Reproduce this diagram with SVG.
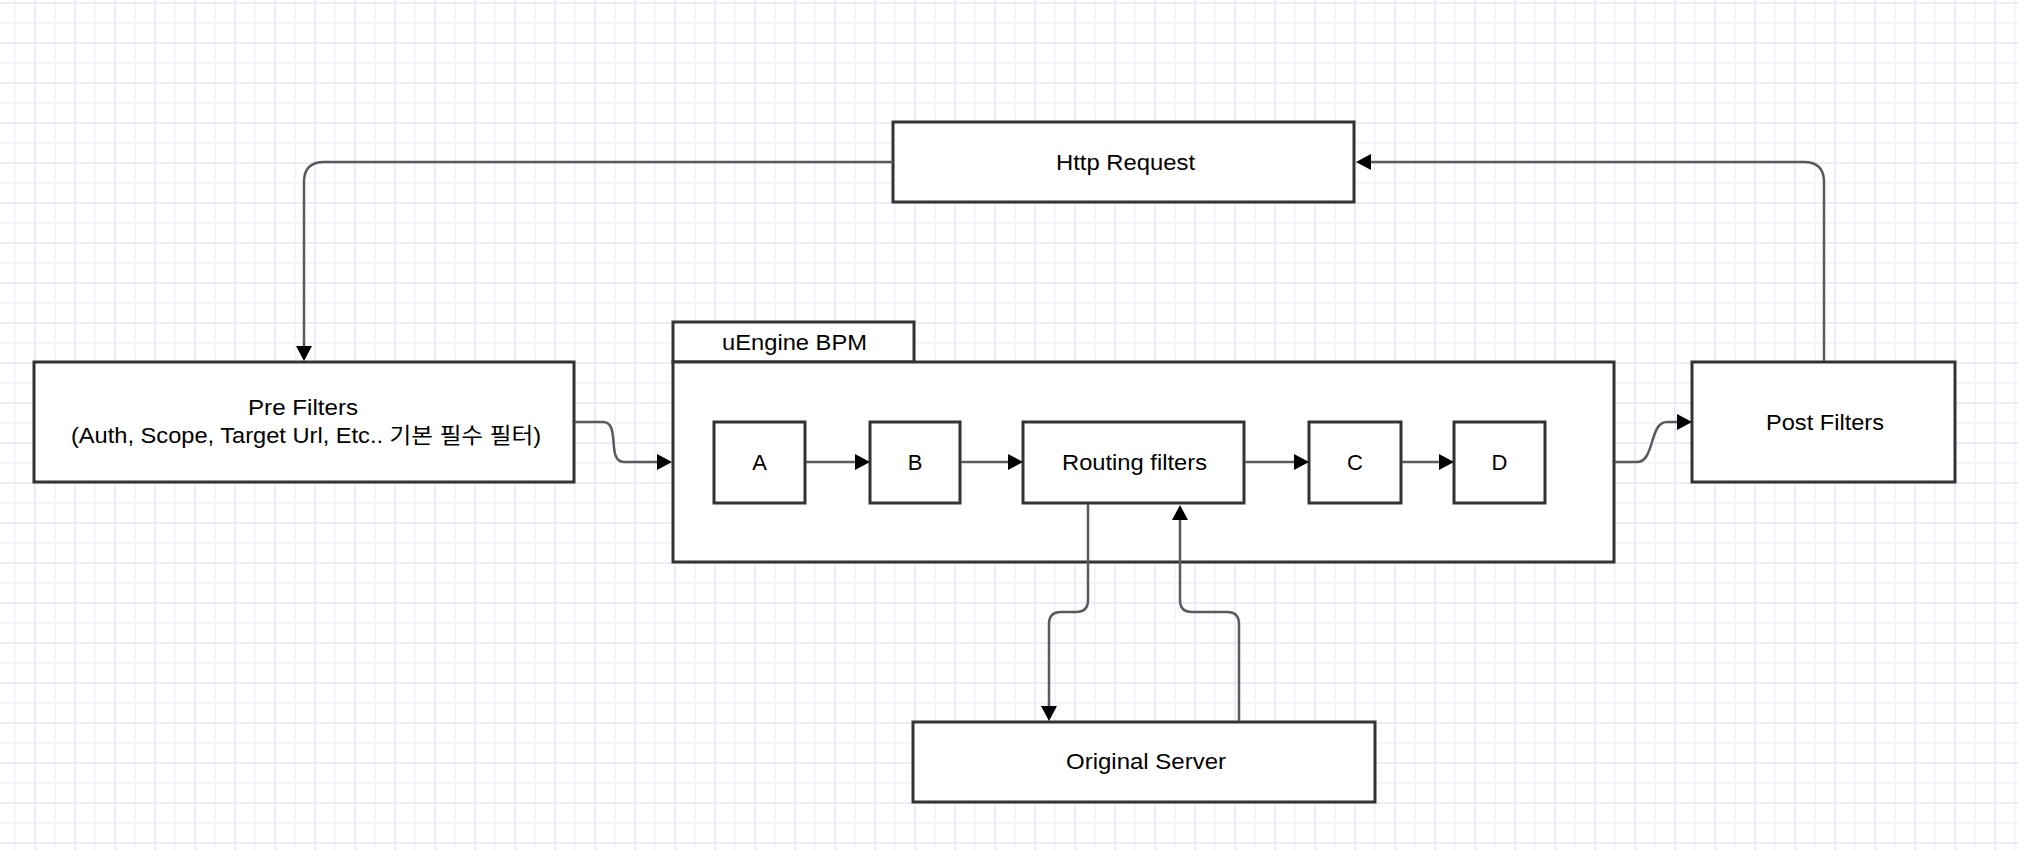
<svg xmlns="http://www.w3.org/2000/svg" width="2018" height="850" viewBox="0 0 2018 850">
  <defs>
    <pattern id="grid" patternUnits="userSpaceOnUse" x="0" y="0" width="40" height="40">
      <rect width="40" height="40" fill="#ffffff"/>
      <line x1="15" y1="0" x2="15" y2="40" stroke="#f5f4fe" stroke-width="2"/>
      <line x1="0" y1="23" x2="40" y2="23" stroke="#f5f4fe" stroke-width="2"/>
      <line x1="35" y1="0" x2="35" y2="40" stroke="#ecebfd" stroke-width="2"/>
      <line x1="0" y1="3" x2="40" y2="3" stroke="#ecebfd" stroke-width="2"/>
    </pattern>
    <marker id="arrow" markerUnits="userSpaceOnUse" markerWidth="16" markerHeight="17" refX="0" refY="8" orient="auto" overflow="visible">
      <path d="M0,0 L15,8 L0,16 Z" fill="#000000"/>
    </marker>
  </defs>
  <style>
    .box { fill: #ffffff; stroke: #333333; stroke-width: 3; }
    .lbl { font-family: "Liberation Sans", Arial, Helvetica, "Noto Sans CJK KR", sans-serif; font-size: 22px; fill: #000000; text-anchor: middle; }
    .conn path { fill: none; stroke: #5a5a5a; stroke-width: 2.5; marker-end: url(#arrow); }
  </style>

  <rect x="0" y="0" width="2018" height="850" fill="url(#grid)"/>

  <g id="http-request">
    <rect class="box" x="893" y="122" width="461" height="80"/>
    <text class="lbl" x="1125.5" y="170" textLength="139" lengthAdjust="spacingAndGlyphs">Http Request</text>
  </g>

  <g id="pre-filters">
    <rect class="box" x="34" y="362" width="540" height="120"/>
    <text class="lbl" x="303" y="415" textLength="110" lengthAdjust="spacingAndGlyphs">Pre Filters</text>
    <text class="lbl" x="306" y="443" textLength="470" lengthAdjust="spacingAndGlyphs">(Auth, Scope, Target Url, Etc.. 기본 필수 필터)</text>
  </g>

  <g id="uengine-bpm">
    <rect class="box" x="673" y="322" width="241" height="40"/>
    <rect class="box" x="673" y="362" width="941" height="200"/>
    <text class="lbl" x="794.5" y="350" textLength="145" lengthAdjust="spacingAndGlyphs">uEngine BPM</text>
  </g>

  <g id="node-a">
    <rect class="box" x="714" y="422" width="91" height="81"/>
    <text class="lbl" x="759.5" y="470">A</text>
  </g>
  <g id="node-b">
    <rect class="box" x="870" y="422" width="90" height="81"/>
    <text class="lbl" x="915" y="470">B</text>
  </g>
  <g id="routing-filters">
    <rect class="box" x="1023" y="422" width="221" height="81"/>
    <text class="lbl" x="1134.5" y="470" textLength="145" lengthAdjust="spacingAndGlyphs">Routing filters</text>
  </g>
  <g id="node-c">
    <rect class="box" x="1309" y="422" width="92" height="81"/>
    <text class="lbl" x="1355" y="470">C</text>
  </g>
  <g id="node-d">
    <rect class="box" x="1454" y="422" width="91" height="81"/>
    <text class="lbl" x="1499.5" y="470">D</text>
  </g>

  <g id="post-filters">
    <rect class="box" x="1692" y="362" width="263" height="120"/>
    <text class="lbl" x="1825" y="430" textLength="118" lengthAdjust="spacingAndGlyphs">Post Filters</text>
  </g>

  <g id="original-server">
    <rect class="box" x="913" y="722" width="462" height="80"/>
    <text class="lbl" x="1146" y="769" textLength="160" lengthAdjust="spacingAndGlyphs">Original Server</text>
  </g>

  <g id="connectors" class="conn">
    <path d="M893,162 H324 Q304,162 304,182 V346"/>
    <path d="M575,422 H603 C621,422 606,462 624,462 H657"/>
    <path d="M806,462 H855"/>
    <path d="M961,462 H1008"/>
    <path d="M1245,462 H1294"/>
    <path d="M1402,462 H1439"/>
    <path d="M1088,504 V600 Q1088,612 1076,612 H1061 Q1049,612 1049,624 V706"/>
    <path d="M1239,721 V624 Q1239,612 1227,612 H1192 Q1180,612 1180,600 V520"/>
    <path d="M1615,462 H1637 C1655,462 1649,422 1667,422 H1677"/>
    <path d="M1824,361 V182 Q1824,162 1804,162 H1371"/>
  </g>
</svg>
